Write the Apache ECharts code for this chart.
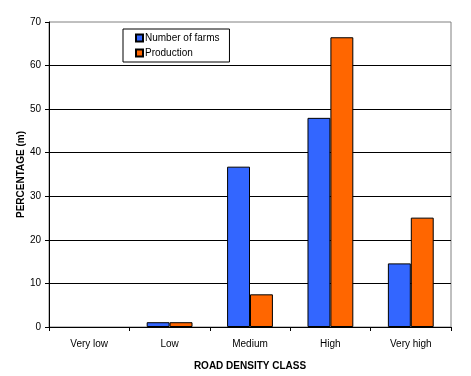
<!DOCTYPE html>
<html><head><meta charset="utf-8">
<script src="https://cdn.jsdelivr.net/npm/echarts@6/dist/echarts.min.js"></script>
<style>html,body{margin:0;padding:0;background:#fff}#c{width:471px;height:376px}</style>
</head><body><div id="c"></div>
<script>
const categories = ['Very low', 'Low', 'Medium', 'High', 'Very high'];
const farms = [0, 1.1, 36.8, 48, 14.6];
const production = [0, 1.1, 7.5, 66.5, 25.1];
const yTicks = [0, 10, 20, 30, 40, 50, 60, 70];

function toData(arr) {
  return arr.map(v => v === 0 ? {value: 0, itemStyle: {borderWidth: 0}} : v);
}

const chart = echarts.init(document.getElementById('c'), null, {renderer: 'canvas'});
const font = 'Liberation Sans, Arial, sans-serif';
chart.setOption({
  animation: false,
  backgroundColor: '#fff',
  grid: {left: 49, right: 20, top: 22, bottom: 48, show: true, borderColor: '#808080', borderWidth: 1},
  legend: {
    orient: 'vertical', left: 123, top: 29,
    borderColor: '#000', borderWidth: 1, padding: [4, 10, 4, 12],
    itemWidth: 7, itemHeight: 7, itemGap: 5,
    icon: 'rect',
    textStyle: {fontFamily: font, fontSize: 10, color: '#000', padding: [0, 0, 0, -3]},
    data: ['Number of farms', 'Production']
  },
  xAxis: {
    type: 'category', data: categories,
    name: 'ROAD DENSITY CLASS', nameLocation: 'middle', nameGap: 34, nameMoveOverlap: false,
    nameTextStyle: {fontFamily: font, fontSize: 10, fontWeight: 'bold', color: '#000'},
    axisLine: {lineStyle: {color: '#000', width: 1}},
    axisTick: {show: true, length: 4, lineStyle: {color: '#000'}},
    axisLabel: {fontFamily: font, fontSize: 10, color: '#000', margin: 12}
  },
  yAxis: {
    type: 'value', min: yTicks[0], max: yTicks[yTicks.length - 1], interval: 10,
    name: 'PERCENTAGE (m)', nameLocation: 'middle', nameGap: 23, nameMoveOverlap: false,
    nameTextStyle: {fontFamily: font, fontSize: 10, fontWeight: 'bold', color: '#000'},
    axisLine: {show: true, lineStyle: {color: '#000', width: 1}},
    axisTick: {show: true, length: 4, lineStyle: {color: '#000'}},
    axisLabel: {fontFamily: font, fontSize: 10, color: '#000', margin: 8},
    splitLine: {show: true, showMaxLine: false, lineStyle: {color: '#000', width: 1}}
  },
  series: [
    {name: 'Number of farms', type: 'bar', data: toData(farms), barGap: '0%', barCategoryGap: '43%',
     itemStyle: {color: '#3366FF', borderColor: '#000', borderWidth: 1}},
    {name: 'Production', type: 'bar', data: toData(production), barGap: '0%', barCategoryGap: '43%',
     itemStyle: {color: '#FF6600', borderColor: '#000', borderWidth: 1}}
  ]
});
</script></body></html>
